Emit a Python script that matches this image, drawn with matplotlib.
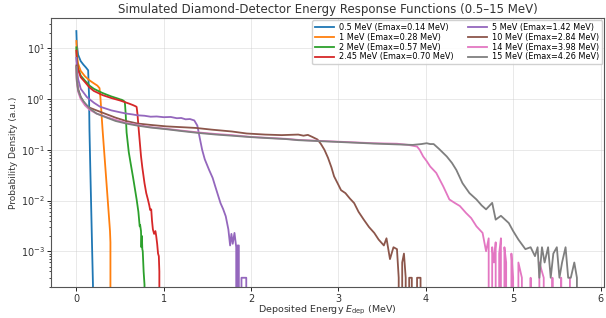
import matplotlib
matplotlib.use("Agg")
import matplotlib.pyplot as plt

labels = ["0.5 MeV (Emax=0.14 MeV)", "1 MeV (Emax=0.28 MeV)", "2 MeV (Emax=0.57 MeV)",
          "2.45 MeV (Emax=0.70 MeV)", "5 MeV (Emax=1.42 MeV)", "10 MeV (Emax=2.84 MeV)",
          "14 MeV (Emax=3.98 MeV)", "15 MeV (Emax=4.26 MeV)"]
colors = ["#1f77b4", "#ff7f0e", "#2ca02c", "#d62728", "#9467bd", "#8c564b", "#e377c2", "#7f7f7f"]

e_05 = [0, 0.005, 0.02, 0.05, 0.08, 0.11, 0.135, 0.145, 0.15, 0.16, 0.17, 0.18, 0.19, 0.195]
p_05 = [22, 12, 7.5, 5.6, 4.8, 4.2, 3.7, 1.2, 0.25, 0.04, 7e-3, 1.2e-3, 2.2e-4, 0]

e_1 = [0, 0.005, 0.02, 0.05, 0.1, 0.15, 0.2, 0.24, 0.265, 0.275, 0.29, 0.30, 0.32, 0.34,
       0.36, 0.38, 0.385, 0.39, 0.395]
p_1 = [14, 8, 5, 3.6, 2.8, 2.35, 2.05, 1.85, 1.65, 1.1, 0.45, 0.25, 0.085, 0.029,
       0.0098, 0.0033, 0.0025, 0.0015, 0]

e_2 = [0, 0.005, 0.02, 0.05, 0.1, 0.15, 0.2, 0.25, 0.3, 0.35, 0.4, 0.45, 0.48, 0.5, 0.52,
       0.54, 0.555, 0.565, 0.575, 0.6, 0.62, 0.65, 0.69, 0.71, 0.725, 0.73, 0.74, 0.745,
       0.75, 0.755, 0.76, 0.77, 0.78, 0.785]
p_2 = [10.5, 6.0, 4.0, 2.9, 2.3, 1.85, 1.6, 1.45, 1.32, 1.22, 1.13, 1.06, 1.02, 0.99, 0.97,
       0.93, 0.88, 0.5, 0.22, 0.09, 0.056, 0.028, 0.0105, 0.006, 0.0031, 0.0033, 0.0025, 0.0012,
       0.002, 0.0011, 0.001, 0.0004, 0.00022, 0]

e_245 = [0, 0.005, 0.02, 0.05, 0.1, 0.15, 0.2, 0.3, 0.4, 0.5, 0.6, 0.65, 0.68, 0.69, 0.70,
         0.71, 0.725, 0.74, 0.755, 0.78, 0.80, 0.819, 0.835, 0.845, 0.857, 0.866, 0.876,
         0.89, 0.905, 0.914, 0.925, 0.935, 0.944, 0.95, 0.955]
p_245 = [9.0, 5.5, 3.8, 2.7, 2.15, 1.7, 1.45, 1.2, 1.05, 0.94, 0.82, 0.76, 0.72, 0.70, 0.5,
         0.3, 0.15, 0.075, 0.045, 0.022, 0.014, 0.0105, 0.008, 0.0065, 0.0067, 0.004, 0.0027,
         0.0022, 0.0025, 0.002, 0.0014, 0.0009, 0.0008, 0.0004, 0]

e_5 = [0, 0.005, 0.02, 0.05, 0.12, 0.2, 0.27, 0.4, 0.5, 0.57, 0.64, 0.7, 0.78, 0.85, 0.92,
       1.0, 1.08, 1.15, 1.2, 1.25, 1.3, 1.35, 1.385, 1.41, 1.44, 1.47, 1.52, 1.56, 1.59, 1.62,
       1.65, 1.68, 1.71, 1.74, 1.76, 1.775, 1.79, 1.81, 1.83, 1.84, 1.845, 1.86, 1.875, 1.89,
       1.91, 1.93, 1.945, 1.95]
p_5 = [6.5, 4.0, 2.5, 1.6, 1.1, 0.85, 0.71, 0.6, 0.55, 0.52, 0.5, 0.48, 0.47, 0.45, 0.455,
       0.44, 0.445, 0.42, 0.425, 0.40, 0.405, 0.38, 0.3, 0.18, 0.1, 0.065, 0.04, 0.028, 0.019,
       0.013, 0.0089, 0.0068, 0.0049, 0.0027, 0.0013, 0.0022, 0.0014, 0.0023, 0.0012, 0,
       0.0013, 0.0013, 0, 0.0003, 0.0003, 0.0003, 0.0003, 0]

e_10 = [0, 0.005, 0.02, 0.05, 0.1, 0.15, 0.23, 0.35, 0.45, 0.57, 0.7, 0.85, 1.03, 1.2, 1.37,
        1.55, 1.78, 1.95, 2.16, 2.35, 2.54, 2.6, 2.65, 2.7, 2.76, 2.8, 2.84, 2.88, 2.92, 2.95,
        2.99, 3.03, 3.08, 3.13, 3.18, 3.23, 3.29, 3.35, 3.41, 3.46, 3.52, 3.55, 3.59, 3.63,
        3.67, 3.69, 3.71, 3.73, 3.75, 3.77, 3.79, 3.81, 3.84, 3.87, 3.9, 3.92, 3.94, 3.95]
p_10 = [4.6, 2.5, 1.6, 1.1, 0.78, 0.68, 0.6, 0.5, 0.43, 0.37, 0.33, 0.31, 0.29, 0.28, 0.27,
        0.25, 0.23, 0.21, 0.2, 0.195, 0.2, 0.19, 0.197, 0.18, 0.16, 0.13, 0.1, 0.07, 0.045,
        0.03, 0.022, 0.016, 0.014, 0.011, 0.0089, 0.006, 0.0042, 0.003, 0.0023, 0.0017,
        0.0013, 0.0018, 0.0007, 0.0012, 0.0011, 0.0003, 0, 0.0006, 0.0009, 0.0003, 0, 0.0003,
        0.0003, 0, 0.0003, 0.0003, 0.0003, 0]

e_14 = [0, 0.005, 0.02, 0.05, 0.1, 0.15, 0.23, 0.35, 0.45, 0.57, 0.7, 0.85, 1.03, 1.2, 1.4,
        1.6, 1.78, 2.0, 2.2, 2.4, 2.54, 2.8, 2.99, 3.2, 3.4, 3.67, 3.8, 3.9, 3.93, 3.97, 4.01,
        4.05, 4.12, 4.2, 4.27, 4.33, 4.39, 4.46, 4.52, 4.58, 4.65, 4.69, 4.72, 4.74, 4.76,
        4.78, 4.8, 4.82, 4.84, 4.86, 4.88, 4.9, 4.92, 4.95, 4.98, 5.0, 5.03, 5.06, 5.1, 5.15,
        5.2, 5.25, 5.3, 5.35, 5.4, 5.45, 5.5, 5.55, 5.6, 5.65]
p_14 = [4.2, 2.2, 1.4, 1.0, 0.75, 0.62, 0.52, 0.44, 0.39, 0.34, 0.31, 0.28, 0.26, 0.24, 0.22,
        0.205, 0.195, 0.18, 0.172, 0.165, 0.157, 0.15, 0.145, 0.14, 0.135, 0.132, 0.125, 0.116,
        0.1, 0.074, 0.06, 0.047, 0.035, 0.019, 0.0105, 0.009, 0.0078, 0.0057, 0.0045, 0.0031,
        0.0023, 0.001, 0.0018, 0, 0.0012, 0.0006, 0.0015, 0, 0.0009, 0.0018, 0, 0.0012, 0.0006,
        0, 0.0009, 0.0003, 0, 0.0006, 0.0003, 0, 0.0003, 0, 0.0006, 0.0003, 0, 0.0003, 0,
        0.0003, 0, 0.0003]

e_15 = [0, 0.005, 0.02, 0.05, 0.083, 0.15, 0.23, 0.35, 0.45, 0.57, 0.7, 0.85, 1.03, 1.2, 1.4,
        1.6, 1.78, 2.0, 2.2, 2.4, 2.54, 2.8, 3.0, 3.2, 3.4, 3.67, 3.85, 3.95, 4.01, 4.05, 4.09,
        4.15, 4.24, 4.3, 4.35, 4.42, 4.5, 4.58, 4.64, 4.69, 4.76, 4.8, 4.86, 4.95, 5.0, 5.06,
        5.14, 5.2, 5.25, 5.28, 5.3, 5.33, 5.36, 5.4, 5.43, 5.46, 5.5, 5.53, 5.56, 5.6, 5.63,
        5.66, 5.7, 5.73, 5.75]
p_15 = [4.3, 2.3, 1.5, 1.1, 0.9, 0.66, 0.52, 0.43, 0.37, 0.33, 0.3, 0.275, 0.255, 0.235, 0.215,
        0.2, 0.19, 0.178, 0.17, 0.163, 0.155, 0.148, 0.143, 0.138, 0.133, 0.128, 0.125, 0.13,
        0.135, 0.13, 0.13, 0.105, 0.074, 0.055, 0.04, 0.022, 0.014, 0.0105, 0.008, 0.0067,
        0.009, 0.0042, 0.005, 0.0036, 0.0025, 0.0017, 0.0011, 0.0012, 0.0008, 0.0012, 0.0003,
        0.0012, 0.0006, 0.0012, 0.0003, 0.0009, 0.0012, 0.0003, 0.0006, 0.0012, 0.0003, 0.0003,
        0.0006, 0.0003, 0]

series_e = [e_05, e_1, e_2, e_245, e_5, e_10, e_14, e_15]
series_p = [p_05, p_1, p_2, p_245, p_5, p_10, p_14, p_15]

fig = plt.figure(figsize=(6.06, 3.18), dpi=100)
ax = fig.add_axes([0.0842, 0.096, 0.9125, 0.846])
for e, p, lab, c in zip(series_e, series_p, labels, colors):
    ax.plot(e, p, color=c, lw=1.3, label=lab)
ax.set_yscale("log", nonpositive="clip")
ax.set_xlim(-0.29, 6.04)
ax.set_ylim(1.93e-4, 39)
ax.grid(True, which="major", color="#cccccc", alpha=0.5, lw=0.6)
ax.tick_params(labelsize=7, length=3, width=0.6, pad=1.5, labelcolor="#333333")
ax.tick_params(which="minor", length=1.6, width=0.5)
ax.set_xlabel(r"Deposited Energy $E_{\rm dep}$ (MeV)", fontsize=6.8, labelpad=0, color="#333333")
ax.set_ylabel("Probability Density (a.u.)", fontsize=6.5, labelpad=2, color="#333333")
ax.set_title("Simulated Diamond-Detector Energy Response Functions (0.5–15 MeV)",
             fontsize=8.5, pad=4, color="#333333")
for s in ax.spines.values():
    s.set_linewidth(0.8)
    s.set_color("#555555")
ax.legend(loc="upper right", ncol=2, fontsize=5.9, frameon=True, handlelength=2.3,
          handletextpad=0.6, columnspacing=1.8, borderpad=0.35, labelspacing=0.1,
          borderaxespad=0.2, framealpha=0.9)
fig.savefig("out.png", dpi=100)
